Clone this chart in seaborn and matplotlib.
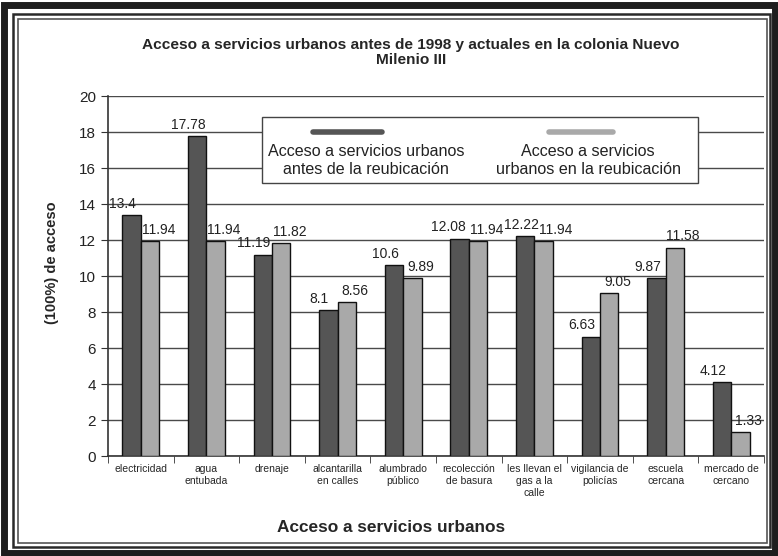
import matplotlib
matplotlib.use("Agg")
import matplotlib.pyplot as plt
from matplotlib.patches import Rectangle
from matplotlib.lines import Line2D
import seaborn as sns
import pandas as pd
import numpy as np

categorias = ["electricidad", "agua\nentubada", "drenaje", "alcantarilla\nen calles",
              "alumbrado\npúblico", "recolección\nde basura", "les llevan el\ngas a la\ncalle",
              "vigilancia de\npolicías", "escuela\ncercana", "mercado de\ncercano"]
antes = [13.4, 17.78, 11.19, 8.1, 10.6, 12.08, 12.22, 6.63, 9.87, 4.12]
actual = [11.94, 11.94, 11.82, 8.56, 9.89, 11.94, 11.94, 9.05, 11.58, 1.33]
series = ["Acceso a servicios urbanos\nantes de la reubicación",
          "Acceso a servicios\nurbanos en la reubicación"]

df = pd.DataFrame({
    "cat": categorias * 2,
    "valor": antes + actual,
    "serie": [series[0]] * len(antes) + [series[1]] * len(actual),
})

sns.set_style("white")
plt.rcParams['font.family'] = ['Liberation Sans', 'DejaVu Sans']
narrow = ['Liberation Sans Narrow', 'Liberation Sans', 'DejaVu Sans']
colores = ["#555555", "#a9a9a9"]

W, H = 778, 556
fig = plt.figure(figsize=(W / 100, H / 100), dpi=100)
ax = fig.add_axes([108 / W, 100 / H, 656 / W, 360 / H])

sns.barplot(data=df, x="cat", y="valor", hue="serie", hue_order=series,
            palette=colores, width=0.56, edgecolor="#111111", linewidth=1,
            ax=ax, legend=False, zorder=3)

# horizontal nudges of the value labels (points), so neighbours don't collide
dx_antes = [-6.5, -6.5, -6.5, -6.5, -6.5, -8, -3, -6.5, -6.5, -6.5]
dx_actual = [6, 6, 6, 6, 6, 6, 9, 6, 6, 6]
for c, nudges in zip(ax.containers, [dx_antes, dx_actual]):
    for bar, v, dx in zip(c, c.datavalues, nudges):
        ax.annotate(f"{v:g}", xy=(bar.get_x() + bar.get_width() / 2, bar.get_height()),
                    xytext=(dx, 3), textcoords="offset points", ha="center", va="bottom",
                    fontsize=10, color="#222222", zorder=4)

ax.set_ylim(0, 20)
ax.set_yticks(np.arange(0, 21, 2))
ax.set_xlim(-0.5, len(categorias) - 0.5)
ax.yaxis.grid(True, color="#4a4a4a", linewidth=1, zorder=0)
ax.set_axisbelow(True)
ax.tick_params(axis='y', labelsize=11, length=5, direction='out', left=True,
               color="#333333", labelcolor="#222222")
ax.set_xticks(range(len(categorias)))
ax.set_xticklabels(categorias, family=narrow, fontsize=7.5)
ax.set_xticks(np.arange(-0.5, len(categorias)), minor=True)
ax.tick_params(axis='x', which='major', length=0, pad=6)
ax.tick_params(axis='x', which='minor', length=5, direction='out', bottom=True,
               color="#333333")
for s in ["top", "right"]:
    ax.spines[s].set_visible(False)
for s in ["left", "bottom"]:
    ax.spines[s].set_color("#333333")
    ax.spines[s].set_linewidth(1.2)

ax.set_xlabel("")
ax.set_ylabel("(100%) de acceso", fontsize=10.5, fontweight="bold")
ax.yaxis.set_label_coords(-0.075, 0.536)

# legend drawn as in the original: line above each entry
ax.add_patch(Rectangle((0.234, 0.758), 0.666, 0.184, transform=ax.transAxes,
                       facecolor="white", edgecolor="#444444", lw=1, zorder=5))
for (x0, x1, xt), col, lab in zip([(0.312, 0.418, 0.393), (0.673, 0.770, 0.732)],
                                  colores, series):
    ax.add_line(Line2D([x0, x1], [0.9, 0.9], transform=ax.transAxes,
                       color=col, lw=4, zorder=6))
    ax.text(xt, 0.822, lab, transform=ax.transAxes, ha="center", va="center",
            fontsize=11.6, linespacing=1.25, zorder=6, color="#222222")

fig.text(0.528, 0.906, "Acceso a servicios urbanos antes de 1998 y actuales en la colonia Nuevo\nMilenio III",
         ha="center", va="center", fontsize=11.1, fontweight="bold",
         linespacing=1.05)
fig.text(0.503, 0.052, "Acceso a servicios urbanos", ha="center", va="center",
         fontsize=12.4, fontweight="bold")

# frame around the picture (pixel boxes: left, top, right, bottom)
for (l, t, r, b), lw, col in [((4, 5, 775, 553), 5, "#1e1e1e"),
                              ((13, 14, 770, 547), 1.8, "#2a2a2a"),
                              ((18, 19, 767, 543), 1.2, "#555555")]:
    fig.add_artist(Rectangle((l / W, 1 - b / H), (r - l) / W, (b - t) / H,
                             transform=fig.transFigure, fill=False,
                             edgecolor=col, lw=lw))

fig.savefig("out.png", dpi=100)
